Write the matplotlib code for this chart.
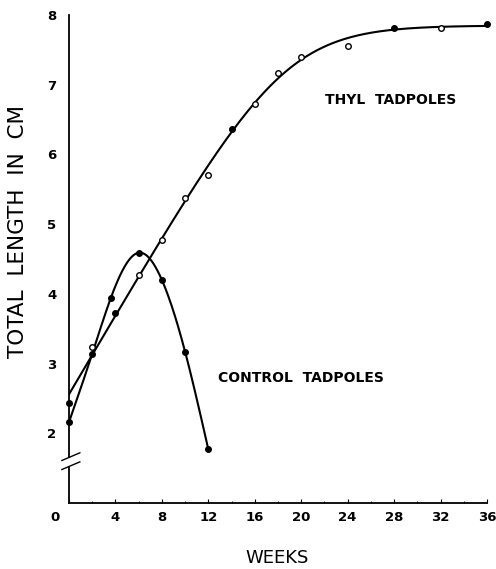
import numpy as np
import matplotlib.pyplot as plt
import matplotlib.transforms as mtransforms

# Data (weeks, total length in cm)
control_weeks = [0, 2, 3.6, 6, 8, 10, 12]
control_length = [2.16, 3.14, 3.94, 4.59, 4.20, 3.17, 1.77]

thyl_weeks = [0, 2, 4, 6, 8, 10, 12, 14, 16, 18, 20, 24, 28, 32, 36]
thyl_length = [2.44, 3.24, 3.72, 4.27, 4.77, 5.37, 5.70, 6.37, 6.73, 7.17,
               7.40, 7.56, 7.81, 7.81, 7.87]
thyl_filled = [True, False, True, False, False, False, False, True, False,
               False, False, False, True, False, True]

x_ticks = [0, 4, 8, 12, 16, 20, 24, 28, 32, 36]
y_ticks = [2, 3, 4, 5, 6, 7, 8]


def natural_spline(x, y, xs):
    x = np.asarray(x, float)
    y = np.asarray(y, float)
    n = len(x)
    h = np.diff(x)
    A = np.zeros((n, n))
    r = np.zeros(n)
    A[0, 0] = A[-1, -1] = 1
    for i in range(1, n - 1):
        A[i, i - 1] = h[i - 1]
        A[i, i] = 2 * (h[i - 1] + h[i])
        A[i, i + 1] = h[i]
        r[i] = 6 * ((y[i + 1] - y[i]) / h[i] - (y[i] - y[i - 1]) / h[i - 1])
    M = np.linalg.solve(A, r)
    idx = np.clip(np.searchsorted(x, xs) - 1, 0, n - 2)
    x0, x1 = x[idx], x[idx + 1]
    hh = x1 - x0
    t0, t1 = x1 - xs, xs - x0
    return (M[idx] * t0 ** 3 / (6 * hh) + M[idx + 1] * t1 ** 3 / (6 * hh)
            + (y[idx] / hh - M[idx] * hh / 6) * t0
            + (y[idx + 1] / hh - M[idx + 1] * hh / 6) * t1)


def growth_fit(x, y, xs):
    # linear growth that levels off smoothly (softplus ramp), least squares
    x = np.asarray(x, float)
    y = np.asarray(y, float)

    def ramp(v, m, w):
        return v - w * np.logaddexp(0, (v - m) / w) + w * np.logaddexp(0, -m / w)

    best = None
    for m in np.linspace(8, 30, 111):
        for w in np.linspace(1, 10, 46):
            B = np.column_stack([np.ones_like(x), ramp(x, m, w)])
            coef, *_ = np.linalg.lstsq(B, y, rcond=None)
            err = np.sum((B @ coef - y) ** 2)
            if best is None or err < best[0]:
                best = (err, m, w, coef)
    _, m, w, coef = best
    return coef[0] + coef[1] * ramp(np.asarray(xs, float), m, w)


plt.rcParams['font.family'] = ['DejaVu Sans']

fig = plt.figure(figsize=(4.96, 5.69), dpi=100, facecolor="white")
ax = fig.add_axes([0.1391, 0.1160, 0.8427, 0.8576])
ax.set_xlim(0, 36)
ax.set_ylim(1.0, 8.0)

# smooth curves drawn through / fitted to the points
xs = np.linspace(0, 12, 300)
ax.plot(xs, natural_spline(control_weeks, control_length, xs),
        color="black", lw=1.5, zorder=2)

xs2 = np.linspace(0, 36, 400)
ax.plot(xs2, growth_fit(thyl_weeks, thyl_length, xs2),
        color="black", lw=1.5, zorder=2)

# markers
cx, cy = np.array(control_weeks), np.array(control_length)
tx, ty = np.array(thyl_weeks), np.array(thyl_length)
filled = np.array(thyl_filled)
ax.plot(cx, cy, "o", color="black", ms=4, zorder=3, clip_on=False)
ax.plot(tx[filled], ty[filled], "o", color="black", ms=4, zorder=3, clip_on=False)
ax.plot(tx[~filled], ty[~filled], "o", mfc="white", mec="black", mew=1.0,
        ms=4, zorder=3, clip_on=False)

# axes styling
for s in ["top", "right", "left"]:
    ax.spines[s].set_visible(False)
ax.spines["bottom"].set_linewidth(1.3)

trans = mtransforms.blended_transform_factory(ax.transAxes, ax.transData)
ax.plot([0, 0], [1.66, 8.0], transform=trans, color="black", lw=1.3, clip_on=False)
ax.plot([0, 0], [1.0, 1.52], transform=trans, color="black", lw=1.3, clip_on=False)
# axis break marks
ax.plot([-0.017, 0.026], [1.61, 1.72], transform=trans, color="black", lw=1.0, clip_on=False)
ax.plot([-0.017, 0.026], [1.48, 1.59], transform=trans, color="black", lw=1.0, clip_on=False)

ax.set_xticks(x_ticks)
ax.set_xticks(np.arange(0, 37, 2), minor=True)
ax.tick_params(axis="x", which="major", direction="in", length=3, width=0.8,
               labelsize=9.5, pad=6)
ax.tick_params(axis="x", which="minor", direction="in", length=1.5, width=0.6)
ax.set_yticks(y_ticks)
ax.tick_params(axis="y", which="major", length=0, labelsize=9.5, pad=9)
for lab in ax.get_xticklabels() + ax.get_yticklabels():
    lab.set_fontweight("bold")
# the "0" sits left of the axis in the original
zero = ax.get_xticklabels()[0]
zero.set_transform(zero.get_transform()
                   + mtransforms.ScaledTranslation(-0.14, 0, fig.dpi_scale_trans))

fig.text(0.558, 0.019, "WEEKS", ha="center", va="center", fontsize=13)
fig.text(0.037, 0.594, "TOTAL  LENGTH  IN  CM", rotation=90, ha="center",
         va="center", fontsize=15.5)

ax.text(22.05, 6.78, "THYL  TADPOLES", fontsize=10, fontweight="bold", va="center")
ax.text(12.83, 2.80, "CONTROL  TADPOLES", fontsize=10, fontweight="bold", va="center")

fig.savefig("out.png", dpi=100, facecolor="white")
